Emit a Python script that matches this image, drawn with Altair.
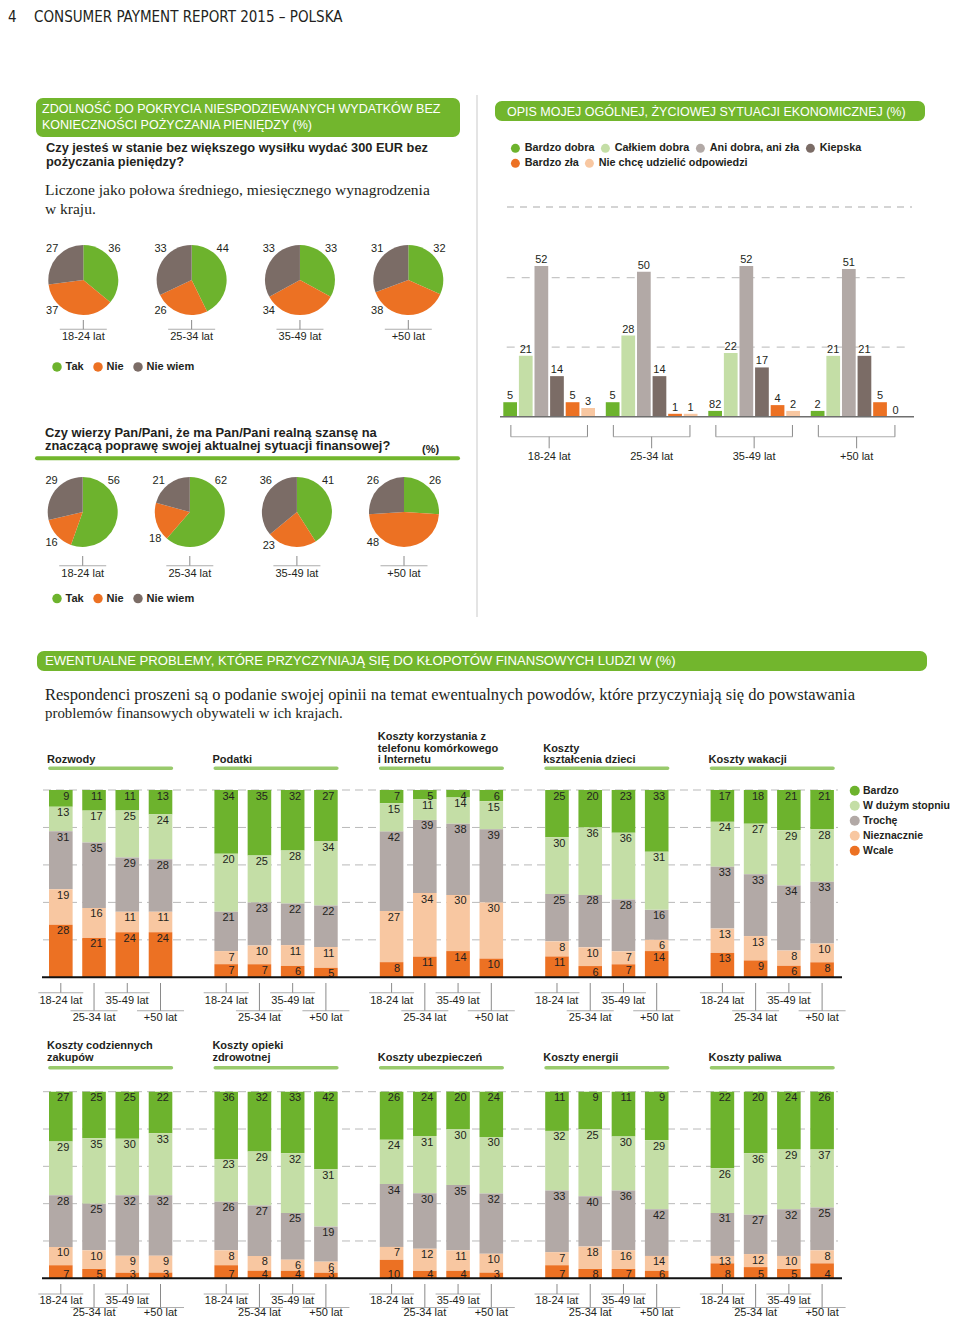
import math
import altair as alt
import pandas as pd

# ------------------------------------------------------------------ data
ages = ["18-24 lat", "25-34 lat", "35-49 lat", "+50 lat"]

pie_categories = ["Tak", "Nie", "Nie wiem"]
afford_tak = [36, 44, 33, 32]
afford_nie = [37, 26, 34, 38]
afford_nie_wiem = [27, 33, 33, 31]
improve_tak = [56, 62, 41, 26]
improve_nie = [16, 18, 23, 48]
improve_nie_wiem = [29, 21, 36, 26]

econ_categories = ["Bardzo dobra", "Całkiem dobra", "Ani dobra, ani zła",
                   "Kiepska", "Bardzo zła", "Nie chcę udzielić odpowiedzi"]
econ_bardzo_dobra = [5, 5, 2, 2]
econ_calkiem_dobra = [21, 28, 22, 21]
econ_ani_dobra_ani_zla = [52, 50, 52, 51]
econ_kiepska = [14, 14, 17, 21]
econ_bardzo_zla = [5, 1, 4, 5]
econ_nie_chce = [3, 1, 2, 0]
econ_bardzo_dobra_printed = ["5", "5", "82", "2"]   # label as printed in the source
econ_grid = [24, 48]

problem_levels = ["Bardzo", "W dużym stopniu", "Trochę", "Nieznacznie", "Wcale"]
row1_titles = ["Rozwody", "Podatki",
               "Koszty korzystania z\ntelefonu komórkowego\ni Internetu",
               "Koszty\nkształcenia dzieci", "Koszty wakacji"]
row2_titles = ["Koszty codziennych\nzakupów", "Koszty opieki\nzdrowotnej",
               "Koszty ubezpieczeń", "Koszty energii", "Koszty paliwa"]

# per age group: [Bardzo, W dużym stopniu, Trochę, Nieznacznie, Wcale] (printed labels)
rozwody = [[9, 13, 31, 19, 28], [11, 17, 35, 16, 21], [11, 25, 29, 11, 24], [13, 24, 28, 11, 24]]
podatki = [[34, 20, 21, 7, 7], [35, 25, 23, 10, 7], [32, 28, 22, 11, 6], [27, 34, 22, 11, 5]]
telefon = [[7, 15, 42, 27, 8], [5, 11, 39, 34, 11], [4, 14, 38, 30, 14], [6, 15, 39, 30, 10]]
ksztalcenie = [[25, 30, 25, 8, 11], [20, 36, 28, 10, 6], [23, 36, 28, 7, 7], [33, 31, 16, 6, 14]]
wakacje = [[17, 24, 33, 13, 13], [18, 27, 33, 13, 9], [21, 29, 34, 8, 6], [21, 28, 33, 10, 8]]
zakupy = [[27, 29, 28, 10, 7], [25, 35, 25, 10, 5], [25, 30, 32, 9, 3], [22, 33, 32, 9, 3]]
zdrowie = [[36, 23, 26, 8, 7], [32, 29, 27, 8, 4], [33, 32, 25, 6, 4], [42, 31, 19, 6, 3]]
ubezpieczenia = [[26, 24, 34, 7, 10], [24, 31, 30, 12, 4], [20, 30, 35, 11, 4], [24, 30, 32, 10, 3]]
energia = [[11, 32, 33, 7, 7], [9, 25, 40, 18, 8], [11, 30, 36, 16, 7], [9, 29, 42, 14, 6]]
paliwo = [[22, 26, 31, 13, 8], [20, 36, 27, 12, 5], [24, 29, 32, 10, 5], [26, 37, 25, 8, 4]]
# segment lengths as actually drawn in the source where they differ from the printed labels
podatki_drawn = [[34, 31, 21, 7, 7], [35, 25, 23, 10, 7], [32, 28, 22, 11, 6], [27, 34, 22, 11, 5]]
energia_drawn = [[21, 32, 33, 7, 7], [20, 36, 27, 12, 5], [24, 29, 32, 10, 5], [26, 37, 25, 8, 4]]
paliwo_drawn = [[41, 24, 23, 4, 8], [33, 33, 21, 7, 6], [31, 32, 25, 7, 5], [31, 31, 23, 7, 8]]
problem_grid = [0.2, 0.4, 0.6, 0.8, 1.0]

# ------------------------------------------------------------------ style
GREEN = "#6db32d"
LIGHT_GREEN = "#c4dea6"
GREY = "#b2a9a6"
DARK = "#7b6c66"
ORANGE = "#ec7123"
PEACH = "#f8c7a1"
HEAD = "#72b62d"
INK = "#231f20"
LINE = "#8a8a8a"
SANS = "Liberation Sans, Arial, sans-serif"
SERIF = "Liberation Serif, serif"
COND = "DejaVu Sans Condensed, Liberation Sans Narrow, sans-serif"

PIE_COLORS = [GREEN, ORANGE, DARK]
ECON_COLORS = [GREEN, LIGHT_GREEN, GREY, DARK, ORANGE, PEACH]
LEVEL_COLORS = [GREEN, LIGHT_GREEN, GREY, PEACH, ORANGE]


def X(v):
    return v - 8


def Y(v):
    return v - 8


one = pd.DataFrame({"k": [0]})


def text_layer(s, x, y, size=11, weight="normal", font=SANS, color=INK,
               align="left", baseline="middle"):
    return alt.Chart(pd.DataFrame({"t": [s]})).mark_text(
        align=align, baseline=baseline, fontSize=size, fontWeight=weight,
        font=font, color=color
    ).encode(x=alt.value(X(x)), y=alt.value(Y(y)), text="t:N")


def rect_layer(x0, y0, x1, y1, color, radius=0):
    return alt.Chart(one).mark_rect(color=color, cornerRadius=radius).encode(
        x=alt.value(X(x0)), x2=alt.value(X(x1)), y=alt.value(Y(y0)), y2=alt.value(Y(y1)))


def line_layer(x0, y0, x1, y1, color, width=1.0, dash=None, cap="butt"):
    kw = dict(color=color, strokeWidth=width, strokeCap=cap)
    if dash:
        kw["strokeDash"] = dash
    return alt.Chart(one).mark_rule(**kw).encode(
        x=alt.value(X(x0)), x2=alt.value(X(x1)), y=alt.value(Y(y0)), y2=alt.value(Y(y1)))


def make_legend(x, y, direction, columns, size, row_pad=4, col_pad=7, offset=4, font_size=11):
    return alt.Legend(
        orient="none", legendX=X(x), legendY=Y(y), direction=direction, columns=columns,
        title=None, symbolType="circle", symbolSize=size, symbolStrokeWidth=0,
        symbolOpacity=1, labelFont=SANS, labelFontSize=font_size, labelFontWeight="bold",
        labelColor=INK, labelOffset=offset, labelLimit=400, padding=0,
        rowPadding=row_pad, columnPadding=col_pad)


# ------------------------------------------------------------------ pies
def pie_group(tak, nie, nie_wiem, cx_first, cx_last, cy, tick_top, tick_line,
              label_y, legend_y):
    recs = []
    for i, age in enumerate(ages):
        for j, series in enumerate([tak, nie, nie_wiem]):
            recs.append({"age": age, "cat": pie_categories[j], "value": series[i], "order": j})
    df = pd.DataFrame(recs)
    xs = alt.Scale(type="point", domain=ages, range=[X(cx_first), X(cx_last)], padding=0)
    xenc = alt.X("age:N", scale=xs, axis=None)
    ts = alt.Scale(domain=[0, 1], range=[0, 2 * math.pi])
    stacked = alt.Chart(df).transform_stack(
        stack="value", groupby=["age"], as_=["t0", "t1"],
        sort=[alt.SortField("order", order="ascending")], offset="normalize")
    arcs = stacked.mark_arc(outerRadius=35).encode(
        x=xenc, y=alt.value(Y(cy)),
        theta=alt.Theta("t0:Q", scale=ts, stack=False),
        theta2=alt.Theta2("t1:Q"),
        color=alt.Color("cat:N", scale=alt.Scale(domain=pie_categories, range=PIE_COLORS),
                        legend=make_legend(51.5, legend_y - 5.5, "horizontal", 3, 90,
                                           col_pad=8, offset=3)))
    # label sits at the slice's outer corner (upper-right / lower-left / upper-left),
    # kept inside the slice's own angular range
    labels = stacked.transform_calculate(
        corner="datum.order == 0 ? 0.125 : (datum.order == 1 ? 0.625 : 0.875)"
    ).transform_calculate(
        ang="min(max(datum.corner, datum.t0 + 0.03), datum.t1 - 0.03)"
    ).mark_text(radius=44, fontSize=11, font=SANS, color=INK).encode(
        x=xenc, y=alt.value(Y(cy)),
        theta=alt.Theta("ang:Q", scale=ts, stack=False),
        text="value:Q")
    adf = pd.DataFrame({"age": ages})
    vt = alt.Chart(adf).mark_rule(color=LINE, strokeWidth=1).encode(
        x=xenc, y=alt.value(Y(tick_top)), y2=alt.value(Y(tick_line)))
    ht = alt.Chart(adf).mark_tick(orient="horizontal", size=47, thickness=1, color=LINE).encode(
        x=xenc, y=alt.value(Y(tick_line)))
    at = alt.Chart(adf).mark_text(fontSize=11, font=SANS, color=INK).encode(
        x=xenc, y=alt.value(Y(label_y)), text="age:N")
    return [arcs, labels, vt, ht, at]


# ------------------------------------------------------------------ economic situation bars
def econ_group():
    series = [econ_bardzo_dobra, econ_calkiem_dobra, econ_ani_dobra_ani_zla,
              econ_kiepska, econ_bardzo_zla, econ_nie_chce]
    recs = []
    for i, age in enumerate(ages):
        for j, s in enumerate(series):
            lab = econ_bardzo_dobra_printed[i] if j == 0 else str(s[i])
            recs.append({"age": age, "cat": econ_categories[j], "value": s[i], "label": lab})
    df = pd.DataFrame(recs)
    xs = alt.Scale(type="band", domain=ages, range=[X(503.3), X(902.5)],
                   paddingInner=0.105, paddingOuter=0)
    xo = alt.Scale(type="band", domain=econ_categories, paddingInner=0.12, paddingOuter=0)
    ys = alt.Scale(domain=[0, 52], range=[Y(416.7), Y(266)], nice=False, zero=True)
    xenc = alt.X("age:N", scale=xs, axis=None)
    grid = alt.Chart(pd.DataFrame({"g": econ_grid})).mark_rule(
        color="#c6c6c6", strokeDash=[8, 7], strokeWidth=1.3).encode(
        y=alt.Y("g:Q", scale=ys, axis=None), x=alt.value(X(506.7)), x2=alt.value(X(911.7)))
    bars = alt.Chart(df).mark_bar().encode(
        x=xenc, xOffset=alt.XOffset("cat:N", scale=xo),
        y=alt.Y("value:Q", scale=ys, axis=None, stack=False),
        color=alt.Color("cat:N", scale=alt.Scale(domain=econ_categories, range=ECON_COLORS),
                        legend=None))
    texts = alt.Chart(df).mark_text(baseline="bottom", dy=-1, fontSize=11, font=SANS,
                                    color=INK).encode(
        x=xenc, xOffset=alt.XOffset("cat:N", scale=xo),
        y=alt.Y("value:Q", scale=ys, axis=None, stack=False), text="label:N")
    base = alt.Chart(pd.DataFrame({"g": [0]})).mark_rule(color="#6f6f6f", strokeWidth=1.5).encode(
        y=alt.Y("g:Q", scale=ys, axis=None), x=alt.value(X(500)), x2=alt.value(X(914)))
    adf = pd.DataFrame({"age": ages})
    left = alt.Chart(adf).mark_rule(color=LINE, xOffset=-38.3).encode(
        x=xenc, y=alt.value(Y(425)), y2=alt.value(Y(436.7)))
    right = alt.Chart(adf).mark_rule(color=LINE, xOffset=38.3).encode(
        x=xenc, y=alt.value(Y(425)), y2=alt.value(Y(436.7)))
    hor = alt.Chart(adf).mark_tick(orient="horizontal", size=77, thickness=1, color=LINE).encode(
        x=xenc, y=alt.value(Y(436.7)))
    mid = alt.Chart(adf).mark_rule(color=LINE).encode(
        x=xenc, y=alt.value(Y(436.7)), y2=alt.value(Y(448.3)))
    lab = alt.Chart(adf).mark_text(fontSize=11, font=SANS, color=INK).encode(
        x=xenc, y=alt.value(Y(457.3)), text="age:N")
    # legend in two flowing rows (first four categories, then the last two)
    legend_layers = []
    for cats, cols, ly in [(econ_categories[:4], ECON_COLORS[:4], 142.5),
                           (econ_categories[4:], ECON_COLORS[4:], 157.5)]:
        legend_layers.append(alt.Chart(pd.DataFrame({"cat": cats})).mark_circle(size=0).encode(
            x=alt.value(-50), y=alt.value(-50),
            color=alt.Color("cat:N", scale=alt.Scale(domain=cats, range=cols),
                            legend=make_legend(510, ly, "horizontal", len(cats), 80,
                                               col_pad=5, font_size=10.8))))
    return [grid, bars, texts, base, left, right, hor, mid, lab] + legend_layers


# ------------------------------------------------------------------ problem panels
def problem_group(titles, printed, drawn, top, base_y, title_last, line_h, underline_y,
                  tick_top, line_a, line_b, label_a, label_b, with_legend, bottom_at_base):
    recs = []
    for p, title in enumerate(titles):
        for a, age in enumerate(ages):
            for l, level in enumerate(problem_levels):
                recs.append({"panel": title, "age": age, "level": level,
                             "order": len(problem_levels) - l,
                             "label": str(printed[p][a][l]), "drawn": drawn[p][a][l]})
    df = pd.DataFrame(recs)
    px = 1.0 / (base_y - top)          # one pixel in normalised units
    xs = alt.Scale(type="band", domain=titles, range=[X(49), X(833.9)],
                   paddingInner=0.2545, paddingOuter=0)
    xo = alt.Scale(type="band", domain=ages, paddingInner=0.29, paddingOuter=0)
    ys = alt.Scale(domain=[0, 1], range=[Y(base_y), Y(top)], nice=False, zero=False)
    xenc = alt.X("panel:N", scale=xs, axis=None)
    oenc = alt.XOffset("age:N", scale=xo)
    stacked = alt.Chart(df).transform_stack(
        stack="drawn", groupby=["panel", "age"], as_=["y0", "y1"],
        sort=[alt.SortField("order", order="ascending")], offset="normalize")
    grid = alt.Chart(pd.DataFrame({"g": problem_grid})).mark_rule(
        color="#b9b9b9", strokeDash=[8, 5], strokeWidth=1).encode(
        y=alt.Y("g:Q", scale=ys, axis=None), x=alt.value(X(43)), x2=alt.value(X(838)))
    if with_legend:
        leg = make_legend(849.5, 785.5, "vertical", 1, 100, row_pad=4, offset=3,
                          font_size=10.5)
    else:
        leg = None
    bars = stacked.mark_bar().encode(
        x=xenc, xOffset=oenc,
        y=alt.Y("y0:Q", scale=ys, axis=None), y2="y1:Q",
        color=alt.Color("level:N", scale=alt.Scale(domain=problem_levels, range=LEVEL_COLORS),
                        legend=leg))
    if bottom_at_base:
        ylab = f"datum.order == 1 ? {3.3 * px} : datum.y1 - {6.5 * px}"
    else:
        ylab = f"datum.y1 - {6.5 * px}"
    texts = stacked.transform_calculate(ylab=ylab).mark_text(
        align="right", baseline="middle", dx=8.5, fontSize=11, font=SANS, color=INK).encode(
        x=xenc, xOffset=oenc, y=alt.Y("ylab:Q", scale=ys, axis=None), text="label:N")
    base = alt.Chart(pd.DataFrame({"g": [0]})).mark_rule(color="#111", strokeWidth=2).encode(
        y=alt.Y("g:Q", scale=ys, axis=None), x=alt.value(X(42)), x2=alt.value(X(842)))
    adf = pd.DataFrame([{"panel": t, "age": a} for t in titles for a in ages])
    first = adf[adf["age"].isin([ages[0], ages[2]])]
    second = adf[adf["age"].isin([ages[1], ages[3]])]
    layers = [grid, bars, texts, base]
    for sub, ly, ty, size in [(first, line_a, label_a, 45), (second, line_b, label_b, 47)]:
        layers.append(alt.Chart(sub).mark_rule(color=LINE).encode(
            x=xenc, xOffset=oenc, y=alt.value(Y(tick_top)), y2=alt.value(Y(ly))))
        layers.append(alt.Chart(sub).mark_tick(orient="horizontal", size=size, thickness=1,
                                               color=LINE).encode(
            x=xenc, xOffset=oenc, y=alt.value(Y(ly))))
        layers.append(alt.Chart(sub).mark_text(fontSize=11, font=SANS, color=INK).encode(
            x=xenc, xOffset=oenc, y=alt.value(Y(ty)), text="age:N"))
    # panel titles, bottom-aligned: one layer per line counted from the bottom
    title_lines = []
    for t in titles:
        parts = t.split("\n")
        for k, part in enumerate(reversed(parts)):
            title_lines.append({"panel": t, "line": part, "k": k})
    tl = pd.DataFrame(title_lines)
    for k in sorted(tl["k"].unique()):
        layers.append(alt.Chart(tl[tl["k"] == k]).mark_text(
            align="left", baseline="middle", dx=-2, fontSize=11, fontWeight="bold",
            font=SANS, color=INK).encode(
            x=alt.X("panel:N", scale=xs, axis=None, bandPosition=0),
            y=alt.value(Y(title_last - k * line_h)), text="line:N"))
    tdf = pd.DataFrame({"panel": titles})
    layers.append(alt.Chart(tdf).mark_tick(orient="horizontal", size=125, thickness=3.5,
                                           cornerRadius=1.7, color=GREEN).encode(
        x=alt.X("panel:N", scale=xs, axis=None), y=alt.value(Y(underline_y))))
    return layers


# ------------------------------------------------------------------ assemble
layers = []
layers.append(text_layer("4", 8, 10, size=15, font=COND, baseline="top"))
layers.append(text_layer("CONSUMER PAYMENT REPORT 2015 – POLSKA", 34, 10, size=15, font=COND,
                         baseline="top"))

layers.append(rect_layer(36, 98, 460, 137, HEAD, 7))
layers.append(text_layer("ZDOLNOŚĆ DO POKRYCIA NIESPODZIEWANYCH WYDATKÓW BEZ", 42, 108.5,
                         size=12.5, color="white"))
layers.append(text_layer("KONIECZNOŚCI POŻYCZANIA PIENIĘDZY (%)", 42, 125, size=12.5,
                         color="white"))
layers.append(rect_layer(495, 101, 925, 121, HEAD, 7))
layers.append(text_layer("OPIS MOJEJ OGÓLNEJ, ŻYCIOWEJ SYTUACJI EKONOMICZNEJ (%)", 507, 111.5,
                         size=12.5, color="white"))
layers.append(text_layer("Czy jesteś w stanie bez większego wysiłku wydać 300 EUR bez", 46, 148,
                         size=12.8, weight="bold"))
layers.append(text_layer("pożyczania pieniędzy?", 46, 162, size=12.8, weight="bold"))
layers.append(text_layer("Liczone jako połowa średniego, miesięcznego wynagrodzenia", 45, 190,
                         size=15.5, font=SERIF))
layers.append(text_layer("w kraju.", 45, 209, size=15.5, font=SERIF))
layers.append(line_layer(477, 95, 477, 617, "#c9c9c9", 1))
layers.append(line_layer(507, 207, 912, 207, "#c6c6c6", 1.3, dash=[7, 6]))

layers.append(text_layer("Czy wierzy Pan/Pani, że ma Pan/Pani realną szansę na", 45, 432.5,
                         size=12.9, weight="bold"))
layers.append(text_layer("znaczącą poprawę swojej aktualnej sytuacji finansowej?", 45, 446,
                         size=12.9, weight="bold"))
layers.append(text_layer("(%)", 422, 450, size=11, weight="bold"))
layers.append(line_layer(37, 458.3, 458, 458.3, HEAD, 4, cap="round"))

layers.append(rect_layer(37, 651, 927, 671, HEAD, 7))
layers.append(text_layer(
    "EWENTUALNE PROBLEMY, KTÓRE PRZYCZYNIAJĄ SIĘ DO KŁOPOTÓW FINANSOWYCH LUDZI W (%)",
    45, 661, size=13.1, color="white"))
layers.append(text_layer(
    "Respondenci proszeni są o podanie swojej opinii na temat ewentualnych powodów, "
    "które przyczyniają się do powstawania", 45, 695, size=16.5, font=SERIF))
layers.append(text_layer("problemów finansowych obywateli w ich krajach.", 45, 714,
                         size=14.9, font=SERIF))

layers += pie_group(afford_tak, afford_nie, afford_nie_wiem, 83.3, 408.3, 280,
                    320, 329.3, 337.3, 366.7)
layers += pie_group(improve_tak, improve_nie, improve_nie_wiem, 82.7, 404, 512,
                    556, 565.7, 574, 598.3)
layers += econ_group()
layers += problem_group(row1_titles,
                        [rozwody, podatki, telefon, ksztalcenie, wakacje],
                        [rozwody, podatki_drawn, telefon, ksztalcenie, wakacje],
                        790, 977.3, 760, 11.5, 768.3, 983, 992.7, 1010.7, 1001, 1018.3,
                        True, False)
layers += problem_group(row2_titles,
                        [zakupy, zdrowie, ubezpieczenia, energia, paliwo],
                        [zakupy, zdrowie, ubezpieczenia, energia_drawn, paliwo_drawn],
                        1091.7, 1278.3, 1057.5, 11.7, 1067.7, 1284, 1294, 1307.5, 1300.5,
                        1313.3, False, True)

chart = alt.layer(*layers).properties(
    width=944, height=1310, padding=0, background="white",
    autosize=alt.AutoSizeParams(type="none"),
).resolve_scale(
    x="independent", y="independent", color="independent",
    theta="independent", xOffset="independent",
).resolve_legend(color="independent").configure_view(stroke=None)

chart.save("out.html", embed_options={"renderer": "svg", "actions": False})
